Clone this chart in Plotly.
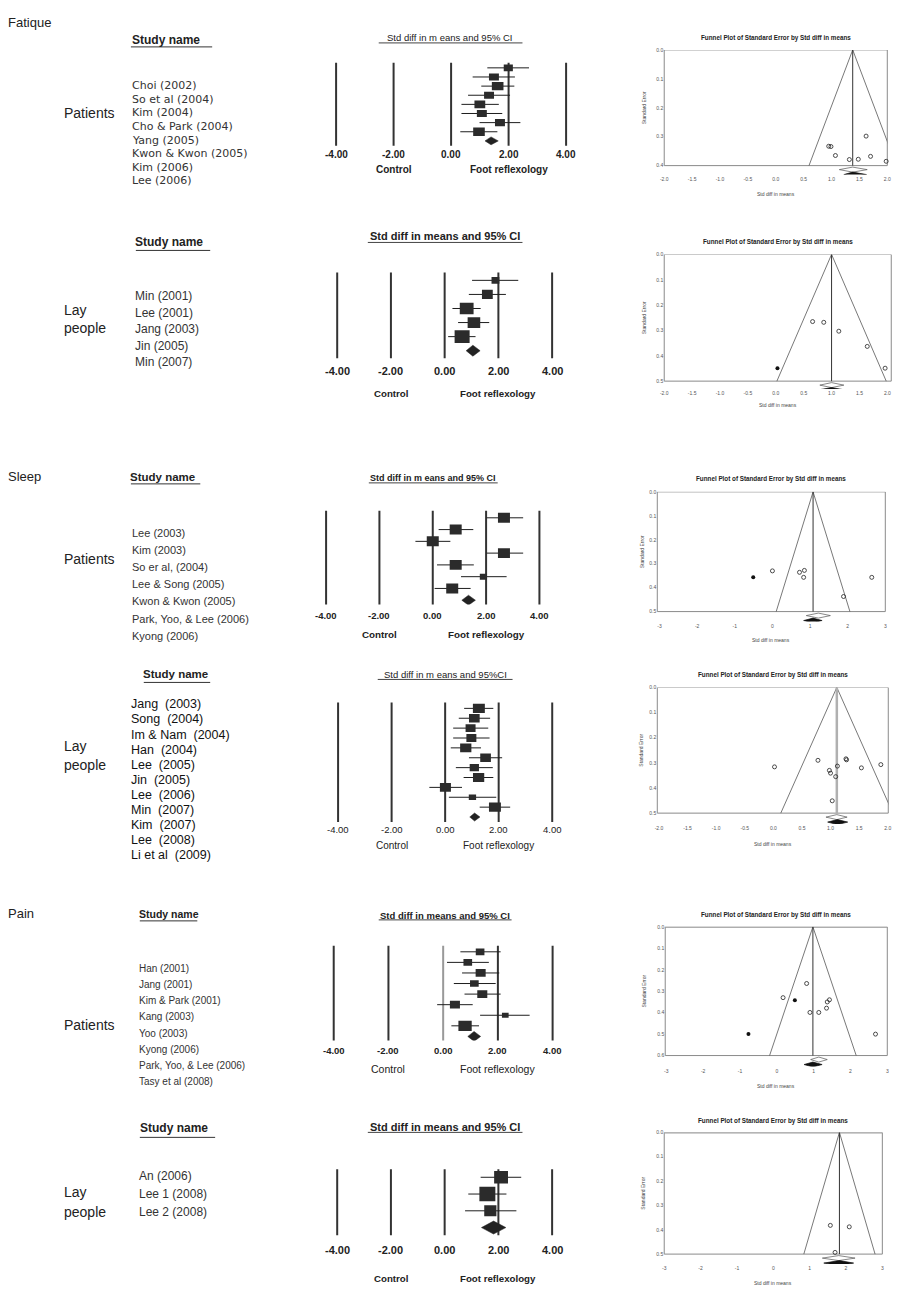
import numpy as np
import plotly.graph_objects as go

W, H = 924, 1299
FONT = "Liberation Sans, Arial, sans-serif"
WIDE = "DejaVu Sans, Verdana, sans-serif"

# ======================= DATA =======================
# ---- Fatigue / patients ----
f1_names = ["Choi (2002)", "So et al (2004)", "Kim (2004)", "Cho & Park (2004)", "Yang (2005)",
            "Kwon & Kwon (2005)", "Kim (2006)", "Lee (2006)"]
f1_est = [1.99, 1.49, 1.62, 1.32, 1.00, 1.07, 1.70, 0.97]
f1_lo = [1.26, 0.75, 1.05, 0.59, 0.36, 0.36, 0.99, 0.32]
f1_hi = [2.71, 2.22, 2.20, 2.05, 1.66, 1.78, 2.41, 1.61]
f1_weight = [11, 12, 14, 12, 13, 12, 12, 14]
f1_pooled = [1.39, 1.18, 1.64]          # est, lo, hi

# ---- Fatigue / lay people ----
f2_names = ["Min (2001)", "Lee (2001)", "Jang (2003)", "Jin (2005)", "Min (2007)"]
f2_est = [1.89, 1.59, 0.82, 1.09, 0.65]
f2_lo = [1.02, 0.90, 0.29, 0.50, 0.13]
f2_hi = [2.74, 2.28, 1.34, 1.66, 1.15]
f2_weight = [13, 18, 23, 21, 25]
f2_pooled = [1.05, 0.80, 1.32]

# ---- Sleep / patients ----
f3_names = ["Lee (2003)", "Kim (2003)", "So er al, (2004)", "Lee & Song (2005)", "Kwon & Kwon (2005)",
            "Park, Yoo, & Lee (2006)", "Kyong (2006)"]
f3_est = [2.67, 0.86, 0.00, 2.67, 0.86, 1.90, 0.73]
f3_lo = [2.02, 0.22, -0.65, 2.02, 0.16, 1.06, 0.07]
f3_hi = [3.39, 1.52, 0.66, 3.39, 1.54, 2.77, 1.42]
f3_weight = [15, 15, 15, 15, 15, 9, 15]
f3_pooled = [1.34, 1.09, 1.60]

# ---- Sleep / lay people ----
f4_names = ["Jang  (2003)", "Song  (2004)", "Im & Nam  (2004)", "Han  (2004)", "Lee  (2005)", "Jin  (2005)",
            "Lee  (2006)", "Min  (2007)", "Kim  (2007)", "Lee  (2008)", "Li et al  (2009)"]
f4_est = [1.26, 1.09, 0.95, 0.98, 0.77, 1.51, 1.09, 1.25, 0.01, 1.02, 1.86]
f4_lo = [0.71, 0.51, 0.30, 0.30, 0.21, 0.89, 0.40, 0.69, -0.59, 0.14, 1.29]
f4_hi = [1.80, 1.68, 1.61, 1.66, 1.34, 2.13, 1.78, 1.80, 0.63, 1.91, 2.43]
f4_weight = [10.3, 9.2, 8.6, 8.6, 9.7, 9.2, 8.0, 9.7, 9.5, 6.3, 10.3]
f4_pooled = [1.10, 0.92, 1.30]

# ---- Pain / patients ----
f5_names = ["Han (2001)", "Jang (2001)", "Kim & Park (2001)", "Kang (2003)", "Yoo (2003)",
            "Kyong (2006)", "Park, Yoo, & Lee (2006)", "Tasy et al (2008)"]
f5_est = [1.35, 0.90, 1.37, 1.14, 1.43, 0.43, 2.27, 0.80]
f5_lo = [0.63, 0.14, 0.69, 0.39, 0.78, -0.22, 1.35, 0.30]
f5_hi = [2.10, 1.67, 2.05, 1.92, 2.10, 1.08, 3.16, 1.31]
f5_weight = [11.4, 11.4, 13.2, 11.4, 13.2, 13.2, 8.8, 17.5]
f5_pooled = [1.13, 0.90, 1.37]

# ---- Pain / lay people ----
f6_names = ["An (2006)", "Lee 1 (2008)", "Lee 2 (2008)"]
f6_est = [2.10, 1.59, 1.70]
f6_lo = [1.34, 0.88, 0.76]
f6_hi = [2.85, 2.30, 2.67]
f6_weight = [33, 38, 29]
f6_pooled = [1.82, 1.37, 2.28]

# ---- Funnel plots: x = std diff in means, se = standard error, imputed = filled dot ----
p1_x = [0.95, 0.99, 1.07, 1.32, 1.48, 1.62, 1.70, 1.98]
p1_se = [0.333, 0.334, 0.365, 0.379, 0.378, 0.298, 0.368, 0.385]
p1_imp = [0, 0, 0, 0, 0, 0, 0, 0]
p1_center = 1.38
p1_obs = [1.38, 1.14, 1.64]
p1_adj = [1.38, 1.22, 1.63]

p2_x = [0.03, 0.66, 0.86, 1.13, 1.64, 1.96]
p2_se = [0.449, 0.265, 0.268, 0.303, 0.363, 0.449]
p2_imp = [1, 0, 0, 0, 0, 0]
p2_center = 1.00
p2_obs = [1.00, 0.79, 1.22]
p2_adj = [1.00, 0.74, 1.26]

p3_x = [-0.51, 0.00, 0.72, 0.85, 0.83, 1.89, 2.64]
p3_se = [0.357, 0.330, 0.336, 0.328, 0.357, 0.437, 0.357]
p3_imp = [1, 0, 0, 0, 0, 0, 0]
p3_center = 1.08
p3_obs = [1.22, 0.90, 1.54]
p3_adj = [1.08, 0.83, 1.32]

p4_x = [0.02, 0.78, 0.98, 1.00, 1.12, 1.09, 1.27, 1.28, 1.54, 1.88, 1.03]
p4_se = [0.316, 0.290, 0.330, 0.341, 0.313, 0.355, 0.284, 0.288, 0.320, 0.307, 0.451]
p4_imp = [0] * 11
p4_center = 1.11
p4_obs = [1.11, 0.92, 1.29]
p4_adj = [1.12, 0.95, 1.30]

p5_x = [0.81, 0.17, 0.49, 0.90, 1.14, 1.37, 1.43, 1.35, -0.77, 2.68]
p5_se = [0.264, 0.330, 0.342, 0.399, 0.399, 0.350, 0.340, 0.379, 0.500, 0.500]
p5_imp = [0, 0, 1, 0, 0, 0, 0, 0, 1, 0]
p5_center = 0.98
p5_obs = [1.14, 0.92, 1.37]
p5_adj = [0.98, 0.74, 1.23]

p6_x = [1.57, 2.09, 1.70]
p6_se = [0.382, 0.388, 0.493]
p6_imp = [0, 0, 0]
p6_center = 1.82
p6_obs = [1.80, 1.35, 2.25]
p6_adj = [1.82, 1.39, 2.21]

forest_ticks = [-4, -2, 0, 2, 4]

# ======================= LAYOUT HELPERS =======================
fig = go.Figure()
annotations, shapes, axes = [], [], {}


def ids(k):
    s = "" if k == 1 else str(k)
    return "x" + s, "y" + s, "xaxis" + s, "yaxis" + s


def px(x):
    return x / W


def py(y):
    return 1 - y / H


def text(x, y, s, size, bold=False, anchor="left", color="#222", angle=0, family=FONT):
    if anchor == "left":
        x -= 3
    annotations.append(dict(x=px(x), y=py(y), xref="paper", yref="paper",
                            text=f"<b>{s}</b>" if bold else s, showarrow=False,
                            xanchor=anchor, yanchor="middle", textangle=angle,
                            font=dict(size=size, color=color, family=family)))


def hline(x0, x1, y, color="#333", width=1):
    shapes.append(dict(type="line", xref="paper", yref="paper", x0=px(x0), x1=px(x1),
                       y0=py(y), y1=py(y), line=dict(color=color, width=width)))


def forest(k, est, lo, hi, wt, pooled, g):
    xa, ya, xk, yk = ids(k)
    n = len(est)
    pad = 4.7
    axes[xk] = dict(domain=[px(g["zero"] - pad * g["unit"]), px(g["zero"] + pad * g["unit"])],
                    range=[-pad, pad], visible=False, anchor=ya, fixedrange=True)

    def row(p):
        return 1 + (p - g["row1"]) / g["step"]

    axes[yk] = dict(domain=[py(g["bot"]), py(g["top"])], range=[row(g["bot"]), row(g["top"])],
                    visible=False, anchor=xa, fixedrange=True)
    for v in forest_ticks:
        col = g.get("zero_col", "#333") if v == 0 else "#333"
        shapes.append(dict(type="line", xref=xa, yref=f"{ya} domain", x0=v, x1=v, y0=0, y1=1,
                           layer="below", line=dict(color=col, width=2)))
        annotations.append(dict(x=v, y=py(g["tick_y"]), xref=xa, yref="paper", showarrow=False,
                                text=f"<b>{v:.2f}</b>" if g["tick_bold"] else f"{v:.2f}",
                                xanchor="center", yanchor="middle",
                                font=dict(size=g["tick_fs"], color="#222", family=FONT)))
    for v, lab in [(-2, "Control"), (2, "Foot reflexology")]:
        annotations.append(dict(x=v, y=py(g["lab_y"]), xref=xa, yref="paper", showarrow=False,
                                text=f"<b>{lab}</b>" if g["lab_bold"] else lab,
                                xanchor="center", yanchor="middle",
                                font=dict(size=g["lab_fs"], color="#222", family=FONT)))
    xs, ys = [], []
    for i in range(n):
        xs += [lo[i], hi[i], None]
        ys += [i + 1, i + 1, None]
    fig.add_trace(go.Scatter(x=xs, y=ys, mode="lines", line=dict(color="#1e1e1e", width=1),
                             xaxis=xa, yaxis=ya, hoverinfo="skip", showlegend=False))
    for i in range(n):
        w = wt[i] * g["wscale"]
        h = w * g["ratio"]
        shapes.append(dict(type="rect", xref=xa, yref=ya, xsizemode="pixel", ysizemode="pixel",
                           xanchor=est[i], yanchor=i + 1, x0=-w / 2, x1=w / 2, y0=-h / 2, y1=h / 2,
                           fillcolor="#2b2b2b", line=dict(width=0)))
    r = n + 1
    dh = g["dia_h"] / g["step"]
    e, l, u = pooled
    fig.add_trace(go.Scatter(x=[l, e, u, e, l], y=[r, r - dh, r, r + dh, r], mode="lines",
                             fill="toself", fillcolor="#222", line=dict(color="#222", width=0.5),
                             xaxis=xa, yaxis=ya, hoverinfo="skip", showlegend=False))
    text(g["title_x"], g["title_y"], g["title"], g["title_fs"], bold=g["title_bold"], anchor="center")
    hline(g["ul"][0], g["ul"][1], g["ul"][2], color="#444", width=1)


def funnel(k, xs, se, imp, center, obs, adj, g):
    xa, ya, xk, yk = ids(k)
    semax = g["semax"]
    top, bot = g["top"], g["bot"]
    axb = g["tick_y"] - 5
    ppu = (bot - top) / semax
    se_bottom = semax * (axb - top) / (bot - top)
    x0, x1 = g["xr"]
    tv = np.arange(np.ceil(x0 / g["dt"] - 1e-9) * g["dt"], x1 + 1e-9, g["dt"])
    tt = [f"{v:.1f}" if g["dt"] < 1 else f"{int(round(v))}" for v in tv]
    axes[xk] = dict(domain=[px(g["left"]), px(g["right"])], range=[x0, x1], anchor=ya,
                    tickvals=[float(v) for v in tv], ticktext=tt, ticks="", showgrid=False, zeroline=False,
                    showline=False, tickfont=dict(size=5, color="#555", family=FONT),
                    fixedrange=True)
    yv = [round(float(v), 1) for v in np.arange(0, semax + 1e-9, 0.1)]
    axes[yk] = dict(domain=[py(axb), py(top)], range=[se_bottom, 0], anchor=xa,
                    tickvals=yv, ticktext=[f"{v:.1f}" for v in yv], ticks="",
                    showgrid=False, zeroline=False, showline=False,
                    tickfont=dict(size=5, color="#555", family=FONT), fixedrange=True)
    shapes.append(dict(type="rect", xref=f"{xa} domain", yref=ya, x0=0, x1=1, y0=0, y1=semax,
                       line=dict(color="#8a8a8a", width=1), layer="below"))
    if g.get("topw"):
        shapes.append(dict(type="line", xref=f"{xa} domain", yref=ya, x0=0, x1=1, y0=0, y1=0,
                           line=dict(color="#a0a0a0", width=g["topw"]), layer="below"))
    fig.add_trace(go.Scatter(x=[center - 1.96 * semax, center, center + 1.96 * semax],
                             y=[semax, 0, semax], mode="lines", line=dict(color="#555", width=0.8),
                             xaxis=xa, yaxis=ya, hoverinfo="skip", showlegend=False))
    fig.add_trace(go.Scatter(x=[center, center], y=[0, semax], mode="lines",
                             line=dict(color=g.get("vcol", "#333"), width=g.get("vw", 1)),
                             xaxis=xa, yaxis=ya, hoverinfo="skip", showlegend=False))
    ox = [x for x, m in zip(xs, imp) if not m]
    oy = [s for s, m in zip(se, imp) if not m]
    fx_ = [x for x, m in zip(xs, imp) if m]
    fy_ = [s for s, m in zip(se, imp) if m]
    fig.add_trace(go.Scatter(x=ox, y=oy, mode="markers",
                             marker=dict(symbol="circle-open", size=4, color="#222", line=dict(width=0.8)),
                             xaxis=xa, yaxis=ya, hoverinfo="skip", showlegend=False, cliponaxis=False))
    if fx_:
        fig.add_trace(go.Scatter(x=fx_, y=fy_, mode="markers", marker=dict(symbol="circle", size=4, color="#111"),
                                 xaxis=xa, yaxis=ya, hoverinfo="skip", showlegend=False, cliponaxis=False))
    hh = 2.5 / ppu
    for (e, l, u), off, fillc, linec in [(obs, 4, "#fff", "#555"), (adj, 9, "#111", "#111")]:
        yc = semax + off / ppu
        fig.add_trace(go.Scatter(x=[l, e, u, e, l], y=[yc, yc - hh, yc, yc + hh, yc], mode="lines",
                                 fill="toself", fillcolor=fillc, line=dict(color=linec, width=0.7),
                                 xaxis=xa, yaxis=ya, hoverinfo="skip", showlegend=False))
    cx = (g["left"] + g["right"]) / 2
    text(cx, g["title_y"], "Funnel Plot of Standard Error by Std diff in means", 6.3, bold=True,
         anchor="center", color="#222")
    text(cx, g["xt_y"], "Std diff in means", 5, anchor="center", color="#444")
    text(g["ytitle_x"], (top + bot) / 2, "Standard Error", 5, anchor="center", color="#444", angle=-90)


def names_block(names, x, y0, step, size, bold=False, color="#333", family=FONT):
    for i, s in enumerate(names):
        text(x, y0 + i * step, s, size, bold=bold, color=color, family=family)


# ======================= GEOMETRY =======================
FG = [
    dict(zero=451, unit=29, top=60, bot=143, row1=65, step=9.15, tick_y=152, lab_y=167, tick_fs=10,
         tick_bold=True, lab_fs=10, lab_bold=True, title="Std diff in m eans and 95% CI", title_x=450,
         title_y=35, title_fs=9.5, title_bold=False, ul=(378, 523, 40), wscale=0.83, ratio=0.72, dia_h=4),
    dict(zero=444.5, unit=27.1, top=270, bot=356, row1=278, step=14.1, tick_y=369, lab_y=391, tick_fs=11,
         tick_bold=True, lab_fs=9.7, lab_bold=True, title="Std diff in means and 95% CI", title_x=445,
         title_y=234, title_fs=11, title_bold=True, ul=(367, 523, 240), wscale=0.6, ratio=0.85, dia_h=5.5),
    dict(zero=432.5, unit=26.9, top=509, bot=603, row1=516, step=11.8, tick_y=614, lab_y=633, tick_fs=9.5,
         tick_bold=True, lab_fs=9.8, lab_bold=True, title="Std diff in m eans and 95% CI", title_x=433,
         title_y=476, title_fs=9, title_bold=True, ul=(368, 498, 481), wscale=0.8, ratio=0.83, dia_h=5),
    dict(zero=445, unit=27, top=701, bot=821, row1=707, step=9.9, tick_y=828, lab_y=844, tick_fs=9.5,
         tick_bold=False, lab_fs=10, lab_bold=False, title="Std diff in m eans and 95%CI", title_x=445,
         title_y=673, title_fs=9.5, title_bold=False, ul=(377, 513, 678), wscale=1.16, ratio=0.78, dia_h=4),
    dict(zero=443, unit=27.6, top=945, bot=1040, row1=951, step=10.6, tick_y=1050, lab_y=1068, tick_fs=9.5,
         tick_bold=True, lab_fs=10.5, lab_bold=False, title="Std diff in means and 95% CI", title_x=445,
         title_y=915, title_fs=9.5, title_bold=True, ul=(378, 512, 919), wscale=0.76, ratio=0.77, dia_h=5,
         zero_col="#999"),
    dict(zero=444.5, unit=27.1, top=1169, bot=1235, row1=1177, step=16.8, tick_y=1250, lab_y=1278, tick_fs=11,
         tick_bold=True, lab_fs=9.7, lab_bold=True, title="Std diff in means and 95% CI", title_x=445,
         title_y=1127, title_fs=11, title_bold=True, ul=(367, 523, 1132), wscale=0.42, ratio=0.9, dia_h=6.5),
]

FN = [
    dict(left=666, right=891, top=47, bot=163, xr=[-2, 2], dt=0.5, semax=0.4, tick_y=177, xt_y=191,
         title_y=35, ytitle_x=645),
    dict(left=666, right=895, top=252, bot=379, xr=[-2, 2.07], dt=0.5, semax=0.5, tick_y=392, xt_y=403,
         title_y=240, ytitle_x=645),
    dict(left=659, right=889, top=490, bot=610, xr=[-3.06, 3], dt=1, semax=0.5, tick_y=625, xt_y=638,
         title_y=477, ytitle_x=643),
    dict(left=659, right=892, top=686, bot=812, xr=[-2.03, 2.01], dt=0.5, semax=0.5, tick_y=828, xt_y=843,
         title_y=674, ytitle_x=643, vcol="#b0b0b0", vw=2.5),
    dict(left=667, right=891, top=926, bot=1055, xr=[-3.03, 3], dt=1, semax=0.6, tick_y=1071, xt_y=1086,
         title_y=914, ytitle_x=646, topw=2),
    dict(left=666, right=886, top=1132, bot=1254, xr=[-3, 3], dt=1, semax=0.5, tick_y=1269, xt_y=1283,
         title_y=1121, ytitle_x=645, topw=2),
]

# ======================= BUILD =======================
forest(1, f1_est, f1_lo, f1_hi, f1_weight, f1_pooled, FG[0])
forest(2, f2_est, f2_lo, f2_hi, f2_weight, f2_pooled, FG[1])
forest(3, f3_est, f3_lo, f3_hi, f3_weight, f3_pooled, FG[2])
forest(4, f4_est, f4_lo, f4_hi, f4_weight, f4_pooled, FG[3])
forest(5, f5_est, f5_lo, f5_hi, f5_weight, f5_pooled, FG[4])
forest(6, f6_est, f6_lo, f6_hi, f6_weight, f6_pooled, FG[5])

funnel(7, p1_x, p1_se, p1_imp, p1_center, p1_obs, p1_adj, FN[0])
funnel(8, p2_x, p2_se, p2_imp, p2_center, p2_obs, p2_adj, FN[1])
funnel(9, p3_x, p3_se, p3_imp, p3_center, p3_obs, p3_adj, FN[2])
funnel(10, p4_x, p4_se, p4_imp, p4_center, p4_obs, p4_adj, FN[3])
funnel(11, p5_x, p5_se, p5_imp, p5_center, p5_obs, p5_adj, FN[4])
funnel(12, p6_x, p6_se, p6_imp, p6_center, p6_obs, p6_adj, FN[5])

# section labels
text(5, 20, "Fatique", 13)
text(5, 475, "Sleep", 13)
text(5, 913, "Pain", 13)
text(62, 110, "Patients", 14)
text(62, 308, "Lay", 14)
text(62, 326, "people", 14)
text(62, 557, "Patients", 14)
text(62, 745, "Lay", 14)
text(62, 764, "people", 14)
text(62, 1024, "Patients", 14)
text(62, 1192, "Lay", 14)
text(62, 1212, "people", 14)

# study name headers
text(130, 37, "Study name", 12, bold=True); hline(128, 210, 44)
text(133, 240, "Study name", 12, bold=True); hline(133, 208, 248)
text(128, 475, "Study name", 11.5, bold=True); hline(128, 198, 482)
text(141, 673, "Study name", 11.5, bold=True); hline(141, 208, 681)
text(137, 913, "Study name", 10.5, bold=True); hline(137, 195, 920)
text(138, 1128, "Study name", 12, bold=True); hline(137, 213, 1137)

names_block(f1_names, 130, 83, 13.6, 11, family=WIDE)
names_block(f2_names, 133, 294, 16.5, 12)
names_block(f3_names, 130, 531, 17.2, 11)
names_block(f4_names, 129, 703, 15.1, 12.5, bold=False, color="#111")
names_block(f5_names, 137, 968, 16.1, 10)
names_block(f6_names, 137, 1176, 18, 12)

fig.update_layout(width=W, height=H, margin=dict(l=0, r=0, t=0, b=0), paper_bgcolor="white",
                  plot_bgcolor="rgba(0,0,0,0)", showlegend=False, annotations=annotations, shapes=shapes,
                  font=dict(family=FONT), **axes)
fig.write_html("out.html", config={"displayModeBar": False},
               post_script="document.body.style.margin='0';document.body.style.overflow='hidden';")
